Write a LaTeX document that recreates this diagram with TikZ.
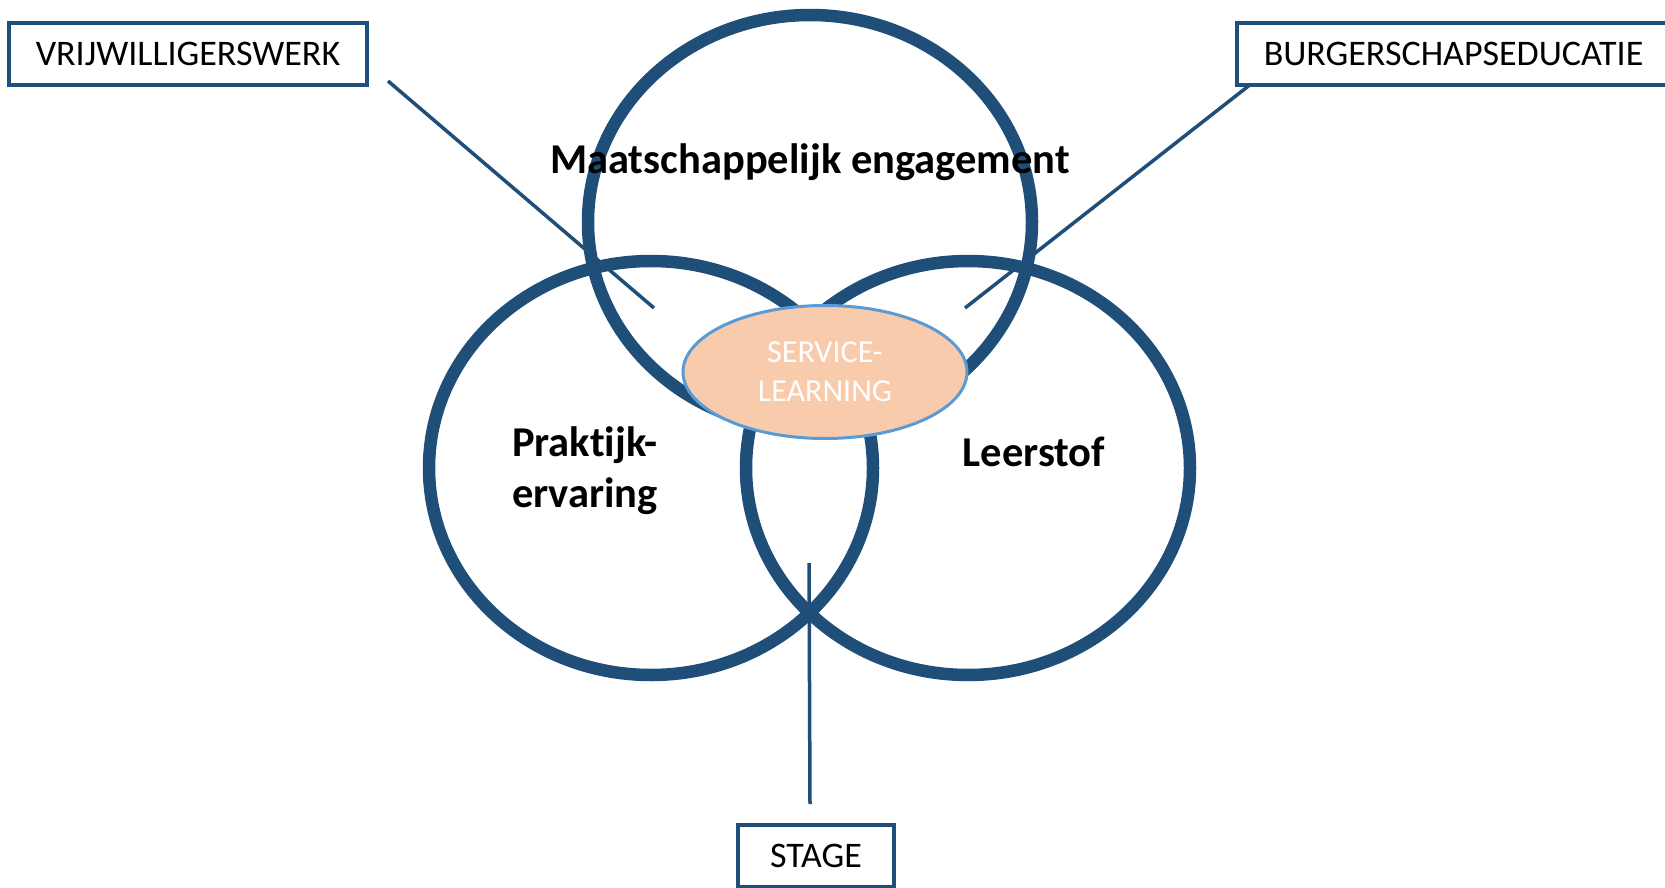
\documentclass[tikz,border=0pt]{standalone}
\usepackage{fontspec}
\setmainfont{Carlito}[Ligatures=NoCommon]
\usetikzlibrary{positioning,shapes.geometric}
\definecolor{ringblue}{HTML}{1F4E79}
\definecolor{slfill}{HTML}{F8CBAD}
\definecolor{slborder}{HTML}{5B9BD5}

\begin{document}
\begin{tikzpicture}[x=1pt,y=-1pt,
    ring/.style={ellipse,draw=ringblue,line width=12.5pt,minimum width=444pt,minimum height=414pt,inner sep=0pt},
    tagbox/.style={rectangle,draw=ringblue,line width=3.5pt,fill=white,minimum height=62pt,inner xsep=27pt,font=\fontsize{36}{43}\selectfont},
    pointer/.style={draw=ringblue,line width=3.5pt},
    theme/.style={font=\fontsize{42.5}{51}\selectfont\bfseries,align=center}]
    \useasboundingbox (0,0) rectangle (1665,888);
            % the three rings
            \node[ring](engagement) at (810,222){};
            \node[ring](praktijk) at (651,468){};
            \node[ring](leerstof) at (968,468){};
            % boxes and their pointers
            \node[tagbox](vrij) at (188,54){VRIJWILLIGERSWERK};
            \node[tagbox,anchor=west](burger) at (1235,54){BURGERSCHAPSEDUCATIE};
            \coordinate (vrijstart) at (388,81);
            \coordinate (vrijend) at (654,308);
            \coordinate (burgerstart) at (1251,84);
            \coordinate (burgerend) at (965,308);
            \coordinate (stagetop) at (809,563);
            \coordinate (stagefoot) at (810,804);
            \node[tagbox,inner xsep=32pt](stage)[below =19pt of stagefoot,xshift=6pt]{STAGE};
            \path[pointer](vrijstart) edge (vrijend)
                    (burgerstart) edge (burgerend)
                    (stagetop) edge (stagefoot);
            % centre
            \node[ellipse,draw=slborder,line width=3pt,fill=slfill,text=white,minimum width=284pt,minimum height=133pt,inner sep=0pt,align=center,font=\fontsize{32}{39}\selectfont](sl) at (825,372){SERVICE-\\LEARNING};
            % ring labels
            \node[theme,anchor=base](engagementlabel) at (810,173){Maatschappelijk engagement};
            \node[theme,anchor=base](praktijklabel) at (585,507){Praktijk-\\ervaring};
            \node[theme,anchor=base](leerstoflabel) at (1034,466){Leerstof};
\end{tikzpicture}
\end{document}
